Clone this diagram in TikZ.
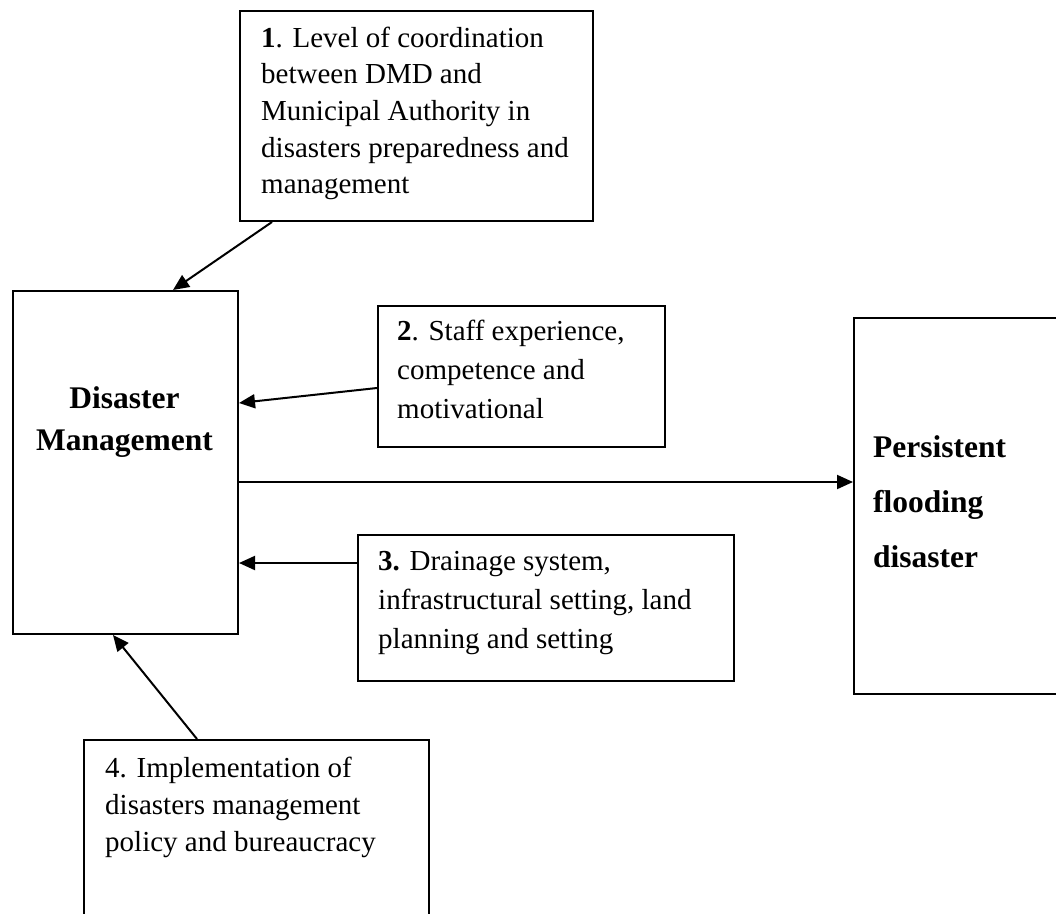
\documentclass[tikz,border=0pt]{standalone}
\usepackage{fontspec}
\setmainfont{Liberation Serif}
\usetikzlibrary{arrows.meta,calc}
\begin{document}
\begin{tikzpicture}[x=1pt,y=-1pt,
  box/.style={draw,line width=2pt,inner sep=0pt,anchor=north west},
  txt/.style={inner sep=0pt,anchor=north west,align=left},
  btxt/.style={inner sep=0pt},
  arr/.style={line width=2pt,-{Triangle[length=16pt,width=14pt]}}]
\useasboundingbox (0,0) rectangle (1056,913);
\clip (0,0) rectangle (1056,913);
% boxes
\node[box,minimum width=353pt,minimum height=210pt] (b1) at (239,10) {};
\node[box,minimum width=225pt,minimum height=343pt] (dm) at (12,290) {};
\node[box,minimum width=287pt,minimum height=141pt] (b2) at (377,305) {};
\node[box,minimum width=230pt,minimum height=376pt] (pf) at (853,317) {};
\node[box,minimum width=376pt,minimum height=146pt] (b3) at (357,534) {};
\node[box,minimum width=345pt,minimum height=220pt] (b4) at (83,739) {};
% texts
\node[txt,font=\fontsize{29}{36.7}\selectfont] (t1) at (261,21.3)
  {\strut\textbf{1}. Level of coordination\\between DMD and\\Municipal Authority in\\disasters preparedness and\\management};
\node[txt,font=\fontsize{29}{39}\selectfont] (t2) at (397,312.7)
  {\strut\textbf{2}. Staff experience,\\competence and\\motivational};
\node[txt,font=\fontsize{29}{39}\selectfont] (t3) at (378,542.7)
  {\strut\textbf{3.} Drainage system,\\infrastructural setting, land\\planning and setting};
\node[txt,font=\fontsize{29}{37}\selectfont] (t4) at (105,751)
  {\strut 4. Implementation of\\disasters management\\policy and bureaucracy};
\node[btxt,anchor=north,align=center,font=\fontsize{31.5}{42}\selectfont\bfseries] (tdm) at (124.5,378.6)
  {\strut Disaster\\Management};
\node[btxt,anchor=north west,align=left,font=\fontsize{31.5}{55}\selectfont\bfseries] (tpf) at (873,418.5)
  {\strut Persistent\\flooding\\disaster};
% connectors
\draw[arr] ($(b1.south west)+(33,0)$) -- ($(dm.north west)+(161,0)$);
\draw[arr] ($(b2.north west)+(0,83)$) -- ($(dm.north east)+(0,113)$);
\draw[arr] ($(dm.north east)+(0,192)$) -- ($(pf.north west)+(0,165)$);
\draw[arr] ($(b3.north west)+(0,29)$) -- ($(dm.north east)+(0,273)$);
\draw[arr] ($(b4.north west)+(114,0)$) -- ($(dm.south west)+(101,0)$);
\end{tikzpicture}
\end{document}
